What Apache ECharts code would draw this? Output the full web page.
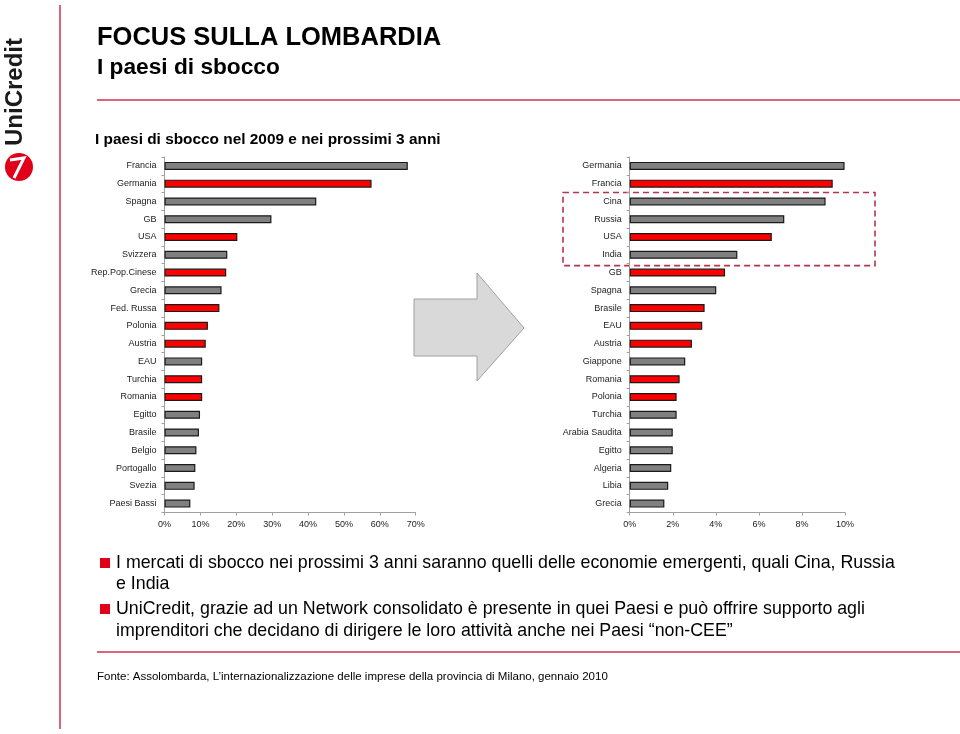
<!DOCTYPE html>
<html>
<head>
<meta charset="utf-8">
<script src="https://cdn.jsdelivr.net/npm/echarts@6/dist/echarts.min.js"></script>
<style>
html,body{margin:0;padding:0;background:#fff;}
#c{width:960px;height:734px;}
</style>
</head>
<body>
<div id="c"></div>
<script>
// ---- Data ----
const leftCategories = ['Francia','Germania','Spagna','GB','USA','Svizzera','Rep.Pop.Cinese','Grecia','Fed. Russa','Polonia','Austria','EAU','Turchia','Romania','Egitto','Brasile','Belgio','Portogallo','Svezia','Paesi Bassi'];
const leftValues = [67.8,57.7,42.3,29.8,20.3,17.5,17.2,15.9,15.3,12.1,11.5,10.5,10.5,10.5,9.9,9.6,8.9,8.6,8.4,7.2];
const leftHighlight = [0,1,0,0,1,0,1,0,1,1,1,0,1,1,0,0,0,0,0,0];

const rightCategories = ['Germania','Francia','Cina','Russia','USA','India','GB','Spagna','Brasile','EAU','Austria','Giappone','Romania','Polonia','Turchia','Arabia Saudita','Egitto','Algeria','Libia','Grecia'];
const rightValues = [9.98,9.43,9.10,7.18,6.60,5.00,4.43,4.02,3.48,3.37,2.89,2.58,2.32,2.18,2.18,2.00,2.00,1.93,1.79,1.61];
const rightHighlight = [0,1,0,0,1,0,1,0,1,1,1,0,1,1,0,0,0,0,0,0];
const rightBoxed = ['Cina','India'];

const leftTicks = {min:0,max:70,interval:10};
const rightTicks = {min:0,max:10,interval:2};

const titleText = 'FOCUS SULLA LOMBARDIA';
const subtitleText = 'I paesi di sbocco';
const chartTitle = 'I paesi di sbocco nel 2009 e nei prossimi 3 anni';
const bullets = [
  ['I mercati di sbocco nei prossimi 3 anni saranno quelli delle economie emergenti, quali Cina, Russia','e India'],
  ['UniCredit, grazie ad un Network consolidato è presente in quei Paesi e può offrire supporto agli','imprenditori che decidano di dirigere le loro attività anche nei Paesi “non-CEE”']
];
const sourceText = 'Fonte: Assolombarda, L’internazionalizzazione delle imprese della provincia di Milano, gennaio 2010';

// ---- Styles ----
const FONT = 'Arial, "Liberation Sans", Helvetica, sans-serif';
const RED = '#ff0000', GREY = '#808080', LINE = '#c8374f';

const chart = echarts.init(document.getElementById('c'), null, {renderer:'canvas'});

function barSeries(values, flags, idx){
  return {
    type:'bar', xAxisIndex:idx, yAxisIndex:idx, barWidth:8,
    data: values.map((v,i)=>({value:v, itemStyle:{color: flags[i]?RED:GREY}})),
    itemStyle:{borderColor:'#1a1a1a', borderWidth:1.2},
    animation:false, silent:true
  };
}
function xAx(idx, t){
  return {
    gridIndex:idx, type:'value', min:t.min, max:t.max, interval:t.interval,
    axisLine:{show:true, lineStyle:{color:'#a0a0a0'}},
    axisTick:{show:true, length:3, lineStyle:{color:'#a0a0a0'}},
    splitLine:{show:false},
    axisLabel:{formatter:'{value}%', fontSize:9, color:'#222', fontFamily:FONT, margin:8}
  };
}
function yAx(idx, cats){
  return {
    gridIndex:idx, type:'category', data:cats, inverse:true,
    axisLine:{show:true, lineStyle:{color:'#a0a0a0'}},
    axisTick:{show:true, length:3, lineStyle:{color:'#a0a0a0'}},
    axisLabel:{fontSize:9, color:'#222', fontFamily:FONT, margin:8}
  };
}

const graphics = [
  // frame lines
  {type:'line', shape:{x1:60,y1:5,x2:60,y2:729}, style:{stroke:LINE, lineWidth:1.5}},
  {type:'line', shape:{x1:97,y1:100,x2:960,y2:100}, style:{stroke:LINE, lineWidth:1.5}},
  {type:'line', shape:{x1:97,y1:652,x2:960,y2:652}, style:{stroke:LINE, lineWidth:1.5}},
  // logo
  {type:'text', x:15, y:92, rotation:Math.PI/2, style:{text:'UniCredit', fontSize:24, fontWeight:'bold', fontFamily:'"Liberation Sans Narrow", Arial, sans-serif', fill:'#1a1a1a', align:'center', verticalAlign:'middle'}},
  {type:'circle', shape:{cx:19, cy:167, r:14}, style:{fill:'#e1001a'}},
  {type:'polyline', shape:{points:[[10,160],[24,158],[14,178]]}, style:{stroke:'#fff', lineWidth:3, fill:null}},
  // titles
  {type:'text', x:97, y:38, style:{text:titleText, fontSize:25.5, fontWeight:'bold', fontFamily:FONT, fill:'#000', verticalAlign:'middle'}},
  {type:'text', x:97, y:68, style:{text:subtitleText, fontSize:22.7, fontWeight:'bold', fontFamily:FONT, fill:'#000', verticalAlign:'middle'}},
  {type:'text', x:95, y:140, style:{text:chartTitle, fontSize:15.4, fontWeight:'bold', fontFamily:FONT, fill:'#000', verticalAlign:'middle'}},
  // arrow
  {type:'polygon', shape:{points:[[414,299],[477,299],[477,273],[524,328],[477,381],[477,356],[414,356]]}, style:{fill:'#d9d9d9', stroke:'#a0a0a0', lineWidth:1}},
  // bullets
  {type:'rect', shape:{x:100,y:558,width:10,height:10}, style:{fill:'#e1001a'}},
  {type:'text', x:116, y:563, style:{text:bullets[0][0], fontSize:17.8, fontFamily:FONT, fill:'#000', verticalAlign:'middle'}},
  {type:'text', x:116, y:584, style:{text:bullets[0][1], fontSize:17.8, fontFamily:FONT, fill:'#000', verticalAlign:'middle'}},
  {type:'rect', shape:{x:100,y:604,width:10,height:10}, style:{fill:'#e1001a'}},
  {type:'text', x:116, y:609, style:{text:bullets[1][0], fontSize:17.8, fontFamily:FONT, fill:'#000', verticalAlign:'middle'}},
  {type:'text', x:116, y:631, style:{text:bullets[1][1], fontSize:17.8, fontFamily:FONT, fill:'#000', verticalAlign:'middle'}},
  // source
  {type:'text', x:97, y:677, style:{text:sourceText, fontSize:11.5, fontFamily:FONT, fill:'#000', verticalAlign:'middle'}}
];

chart.setOption({
  animation:false,
  grid:[
    {left:164.5, top:157, width:251.2, height:355.5},
    {left:629.7, top:157, width:215.3, height:355.5}
  ],
  xAxis:[xAx(0,leftTicks), xAx(1,rightTicks)],
  yAxis:[yAx(0,leftCategories), yAx(1,rightCategories)],
  series:[barSeries(leftValues,leftHighlight,0), barSeries(rightValues,rightHighlight,1)],
  graphic:graphics
});

// dashed highlight box around the emerging markets, placed via the axis scale
const yTop = chart.convertToPixel({yAxisIndex:1}, rightBoxed[0]);
const yBot = chart.convertToPixel({yAxisIndex:1}, rightBoxed[1]);
const band = 355.5 / rightCategories.length;
graphics.push({type:'rect', shape:{x:563, y:yTop-band/2, width:312, height:(yBot-yTop)+band+2},
  style:{fill:null, stroke:'#b8324e', lineWidth:1.6, lineDash:[6,4]}});
chart.setOption({graphic:graphics}, {replaceMerge:['graphic']});
</script>
</body>
</html>
